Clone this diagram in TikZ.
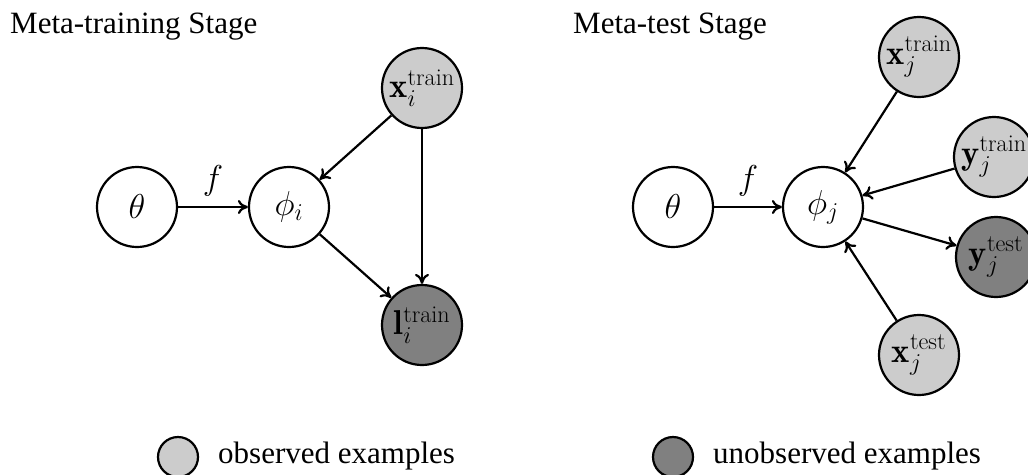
\RequirePackage{fix-cm}
\documentclass[tikz,border=0pt]{standalone}
\usepackage{fontspec}
\newfontfamily\tnr{Liberation Serif}
\usetikzlibrary{arrows.meta}
\definecolor{obsgray}{HTML}{CCCCCC}
\definecolor{unobsgray}{HTML}{808080}
\begin{document}
\begin{tikzpicture}[x=1pt,y=-1pt,
  var/.style={circle,draw,line width=2.2pt,minimum size=80pt,inner sep=0pt,fill=white,
    font=\fontsize{34.5}{40}\selectfont},
  obs/.style={var,fill=obsgray},
  unobs/.style={var,fill=unobsgray},
  legobs/.style={circle,draw,line width=2.2pt,minimum size=40pt,inner sep=0pt,fill=obsgray},
  legunobs/.style={circle,draw,line width=2.2pt,minimum size=40pt,inner sep=0pt,fill=unobsgray},
  edge/.style={-{To[length=10pt,width=14pt]},line width=2.2pt},
  flab/.style={font=\fontsize{34.5}{40}\selectfont,above,inner sep=10pt},
  ttl/.style={font=\tnr\fontsize{31}{36}\selectfont,anchor=base west,inner sep=0pt}]
\useasboundingbox (0,0) rectangle (1028,474);
\clip (0,0) rectangle (1028,474);
% titles
\node[ttl] (t1) at (10,33) {Meta-training Stage};
\node[ttl] (t2) at (573,33) {Meta-test Stage};
% left panel
\node[var] (theta1) at (137,207) {$\theta$};
\node[var] (phi1) at (289,207) {$\phi_i$};
\node[obs] (xtr1) at (422,88) {\makebox[0pt]{$\mathbf{x}_i^{\mathrm{train}}$}};
\node[unobs] (ltr1) at (422,325) {\makebox[0pt]{$\mathbf{l}_i^{\mathrm{train}}$}};
\draw[edge] (theta1) -- node[flab] {$f$} (phi1);
\draw[edge] (xtr1) -- (phi1);
\draw[edge] (xtr1) -- (ltr1);
\draw[edge] (phi1) -- (ltr1);
% right panel
\node[var] (theta2) at (673,207) {$\theta$};
\node[var] (phi2) at (823,207) {$\phi_j$};
\node[obs] (xtr2) at (919,57) {\makebox[0pt]{$\mathbf{x}_j^{\mathrm{train}}$}};
\node[obs] (ytr2) at (994,157) {\makebox[0pt]{$\mathbf{y}_j^{\mathrm{train}}$}};
\node[unobs] (yte2) at (996,257) {\makebox[0pt]{$\mathbf{y}_j^{\mathrm{test}}$}};
\node[obs] (xte2) at (919,355) {\makebox[0pt]{$\mathbf{x}_j^{\mathrm{test}}$}};
\draw[edge] (theta2) -- node[flab] {$f$} (phi2);
\draw[edge] (xtr2) -- (phi2);
\draw[edge] (ytr2) -- (phi2);
\draw[edge] (phi2) -- (yte2);
\draw[edge] (xte2) -- (phi2);
% legend
\node[legobs] (lg1) at (178,457) {};
\node[ttl] (lt1) at (218,463) {observed examples};
\node[legunobs] (lg2) at (673,457) {};
\node[ttl] (lt2) at (713,463) {unobserved examples};
\end{tikzpicture}
\end{document}
